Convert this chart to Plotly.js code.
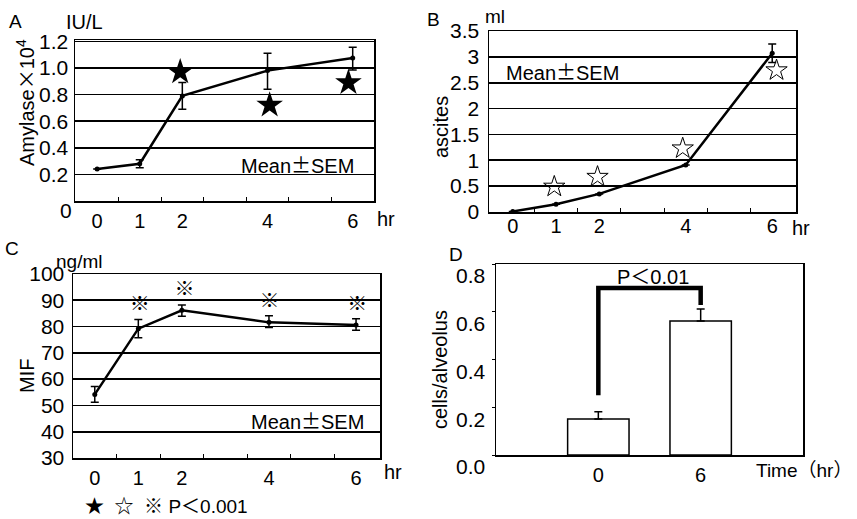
<!DOCTYPE html>
<html>
<head>
<meta charset="utf-8">
<script src="https://cdn.plot.ly/plotly-3.0.1.min.js"></script>
<style>html,body{margin:0;padding:0;background:#fff;}#chart{width:857px;height:519px;}</style>
</head>
<body>
<div id="chart"></div>
<script>
// ---------- data ----------
const hours = [0, 1, 2, 4, 6];
const hourTickText = ['0', '1', '2', '4', '6'];
const halfHourTicks = [0.5, 1.5, 2.5, 3.5, 4.5, 5.5];

// Panel A: serum amylase (IU/L x10^4)
const amylase = [0.24, 0.28, 0.79, 0.98, 1.075];
const amylaseErrPlus = [0, 0.03, 0.10, 0.13, 0.08];
const amylaseErrMinus = [0, 0.03, 0.10, 0.14, 0.09];
const amylaseStarX = [1.95, 4.05, 5.9];
const amylaseStarY = [0.97, 0.72, 0.89];
const amylaseTickVals = [0.2, 0.4, 0.6, 0.8, 1.0, 1.2];
const amylaseTickText = ['0.2', '0.4', '0.6', '0.8', '1.0', '1.2'];

// Panel B: ascites (ml)
const ascites = [0.01, 0.15, 0.35, 0.91, 3.07];
const ascitesErr = [0, 0, 0, 0, 0.18];
const ascitesStarX = [0.96, 1.96, 3.93, 6.1];
const ascitesStarY = [0.49, 0.68, 1.23, 2.74];
const ascitesTickVals = [0, 0.5, 1, 1.5, 2, 2.5, 3, 3.5];
const ascitesTickText = ['0', '0.5', '1', '1.5', '2', '2.5', '3', '3.5'];

// Panel C: MIF (ng/ml)
const mif = [54.2, 79.2, 86.2, 81.6, 80.6];
const mifErrPlus = [3.0, 3.5, 2.0, 2.5, 2.4];
const mifErrMinus = [3.0, 3.5, 2.3, 2.0, 2.0];
const mifMarkX = [1.03, 2.06, 4.01, 6.03];
const mifMarkY = [87.7, 93.5, 88.8, 88.0];
const mifTickVals = [30, 40, 50, 60, 70, 80, 90, 100];
const mifTickText = ['30', '40', '50', '60', '70', '80', '90', '100'];

// Panel D: cells/alveolus
const timeCats = ['0', '6'];
const cells = [0.151, 0.561];
const cellsErr = [0.03, 0.05];
const bracketX = ['0', '0', '6', '6'];
const bracketY = [0.25, 0.70, 0.70, 0.628];
const cellsTickVals = [0, 0.2, 0.4, 0.6, 0.8];
const cellsTickText = ['0.0', '0.2', '0.4', '0.6', '0.8'];

// ---------- helpers ----------
const W = 857, H = 519;
const FONT = 'Liberation Sans, Arial, Noto Sans CJK JP, sans-serif';
const CJK = 'Noto Sans CJK JP';
const dx = (a, b) => [a / W, b / W];
const dy = (top, bottom) => [1 - bottom / H, 1 - top / H];

function ann(text, x, y, size, extra) {
  return Object.assign({
    text: text, xref: 'paper', yref: 'paper', x: x / W, y: 1 - y / H,
    xanchor: 'center', yanchor: 'middle', showarrow: false,
    font: {family: FONT, size: size || 20, color: 'black'}
  }, extra || {});
}

const errStyle = {color: 'black', thickness: 1.5, width: 4};
const TICKFONT = {family: FONT, size: 20, color: 'black'};

function xAxis(domain, range, anchor, extra) {
  return Object.assign({
    domain: domain, range: range, anchor: anchor,
    tickmode: 'array', tickvals: hours, ticktext: hourTickText,
    ticks: '', showline: true, linecolor: 'black', linewidth: 1.5, mirror: true,
    showgrid: false, zeroline: false,
    tickfont: TICKFONT,
    fixedrange: true
  }, extra || {});
}
// overlay axis that only carries the small inside half-hour ticks
function halfTickAxis(base, range, anchor) {
  return {
    overlaying: base, anchor: anchor, range: range,
    tickmode: 'array', tickvals: halfHourTicks, ticks: 'inside', ticklen: 4,
    tickwidth: 1, tickcolor: 'black', showticklabels: false,
    showline: false, showgrid: false, zeroline: false, fixedrange: true
  };
}
function yAxis(domain, range, anchor, vals, text, extra) {
  return Object.assign({
    domain: domain, range: range, anchor: anchor,
    tickmode: 'array', tickvals: vals, ticktext: text,
    ticks: '', showline: true, linecolor: 'black', linewidth: 1.5, mirror: true,
    showgrid: true, gridcolor: 'black', gridwidth: 1.6, zeroline: false,
    tickfont: {family: FONT, size: 21, color: 'black'},
    fixedrange: true
  }, extra || {});
}

const lineStyle = {color: 'black', width: 2.5};
const markStyle = {color: 'black', size: 5, symbol: 'circle'};

const rangeA = [-0.52, 6.5], rangeB = [-0.55, 6.55], rangeC = [-0.5, 6.55];

const traces = [
  // A
  {x: hours, y: amylase, xaxis: 'x', yaxis: 'y', type: 'scatter', mode: 'lines+markers',
   line: lineStyle, marker: markStyle,
   error_y: Object.assign({type: 'data', symmetric: false, array: amylaseErrPlus, arrayminus: amylaseErrMinus}, errStyle)},
  {x: amylaseStarX, y: amylaseStarY, xaxis: 'x', yaxis: 'y', type: 'scatter', mode: 'markers',
   marker: {symbol: 'star', size: 20, color: 'black', line: {width: 0}}},
  // B
  {x: hours, y: ascites, xaxis: 'x2', yaxis: 'y2', type: 'scatter', mode: 'lines+markers',
   line: lineStyle, marker: markStyle,
   error_y: Object.assign({type: 'data', array: ascitesErr}, errStyle)},
  {x: ascitesStarX, y: ascitesStarY, xaxis: 'x2', yaxis: 'y2', type: 'scatter', mode: 'markers',
   marker: {symbol: 'star-open', size: 16, color: 'black', line: {width: 1, color: 'black'}}},
  // C
  {x: hours, y: mif, xaxis: 'x3', yaxis: 'y3', type: 'scatter', mode: 'lines+markers',
   line: lineStyle, marker: markStyle,
   error_y: Object.assign({type: 'data', symmetric: false, array: mifErrPlus, arrayminus: mifErrMinus}, errStyle)},
  {x: mifMarkX, y: mifMarkY, xaxis: 'x3', yaxis: 'y3', type: 'scatter', mode: 'text',
   text: mifMarkX.map(() => '※'), textposition: 'middle center',
   textfont: {family: CJK, size: 20, color: 'black'}},
  // D
  {x: timeCats, y: cells, xaxis: 'x4', yaxis: 'y4', type: 'bar', width: 0.6,
   marker: {color: 'white', line: {color: 'black', width: 1.5}},
   error_y: Object.assign({type: 'data', symmetric: false, array: cellsErr, arrayminus: [0, 0]}, errStyle)},
  {x: bracketX, y: bracketY, xaxis: 'x4', yaxis: 'y4', type: 'scatter', mode: 'lines',
   line: {color: 'black', width: 4.5}},
  // empty traces that attach the half-hour tick overlay axes
  {x: [], y: [], xaxis: 'x5', yaxis: 'y', type: 'scatter', mode: 'lines', hoverinfo: 'skip'},
  {x: [], y: [], xaxis: 'x6', yaxis: 'y2', type: 'scatter', mode: 'lines', hoverinfo: 'skip'},
  {x: [], y: [], xaxis: 'x7', yaxis: 'y3', type: 'scatter', mode: 'lines', hoverinfo: 'skip'}
];

const layout = {
  width: W, height: H,
  margin: {l: 0, r: 0, t: 0, b: 0},
  paper_bgcolor: 'white', plot_bgcolor: 'white',
  showlegend: false,
  font: {family: FONT, size: 20, color: 'black'},
  xaxis: xAxis(dx(75, 374), rangeA, 'y', {ticklabelstandoff: 1}),
  yaxis: yAxis(dy(40, 201), [0, 1.21], 'x', amylaseTickVals, amylaseTickText, {ticklabelstandoff: 1}),
  xaxis2: xAxis(dx(489, 796), rangeB, 'y2', {ticklabelstandoff: -5}),
  yaxis2: yAxis(dy(31, 212), [0, 3.5], 'x2', ascitesTickVals, ascitesTickText, {ticklabelstandoff: 4}),
  xaxis3: xAxis(dx(73, 380), rangeC, 'y3', {ticklabelstandoff: 1}),
  yaxis3: yAxis(dy(274, 458), [30, 100], 'x3', mifTickVals, mifTickText, {ticklabelstandoff: 3}),
  xaxis4: {domain: dx(496, 803), anchor: 'y4', type: 'category', range: [-1, 2],
    ticks: '', showline: true, linecolor: 'black', linewidth: 1.5, mirror: true,
    showgrid: false, zeroline: false, ticklabelstandoff: 1,
    tickfont: TICKFONT, fixedrange: true},
  yaxis4: yAxis(dy(264, 455), [0, 0.8], 'x4', cellsTickVals, cellsTickText,
    {showgrid: false, ticks: 'outside', ticklen: 3, tickwidth: 1, tickcolor: 'black',
     ticklabelstandoff: 2, ticklabelshift: 12}),
  xaxis5: halfTickAxis('x', rangeA, 'y'),
  xaxis6: halfTickAxis('x2', rangeB, 'y2'),
  xaxis7: halfTickAxis('x3', rangeC, 'y3'),
  annotations: [
    ann('A', 16, 22, 19),
    ann('IU/L', 84, 22, 20),
    ann('0', 66, 210, 21),
    ann('Amylase<span style="font-family:Noto Sans CJK JP">×</span>10<sup>4</sup>', 25, 103, 20, {textangle: -90}),
    ann('Mean<span style="font-family:Noto Sans CJK JP">±</span>SEM', 297, 164, 20),
    ann('hr', 386, 219, 20),
    ann('B', 433, 19, 19),
    ann('ml', 495, 17, 19),
    ann('ascites', 441, 127, 20, {textangle: -90}),
    ann('Mean<span style="font-family:Noto Sans CJK JP">±</span>SEM', 562, 72, 20),
    ann('hr', 801, 228, 20),
    ann('C', 12, 248, 19),
    ann('ng/ml', 79, 261, 19),
    ann('MIF', 27, 376, 20, {textangle: -90}),
    ann('Mean<span style="font-family:Noto Sans CJK JP">±</span>SEM', 307, 420, 20),
    ann('hr', 393, 472, 20),
    ann('★  ☆  ※ P＜0.001', 166, 506, 19),
    ann('D', 456, 254, 19),
    ann('cells/alveolus', 440, 370, 20, {textangle: -90}),
    ann('P＜0.01', 653, 277, 20),
    ann('Time（hr）', 804, 470, 19)
  ]
};

Plotly.newPlot('chart', traces, layout, {staticPlot: true, displayModeBar: false});
</script>
</body>
</html>
